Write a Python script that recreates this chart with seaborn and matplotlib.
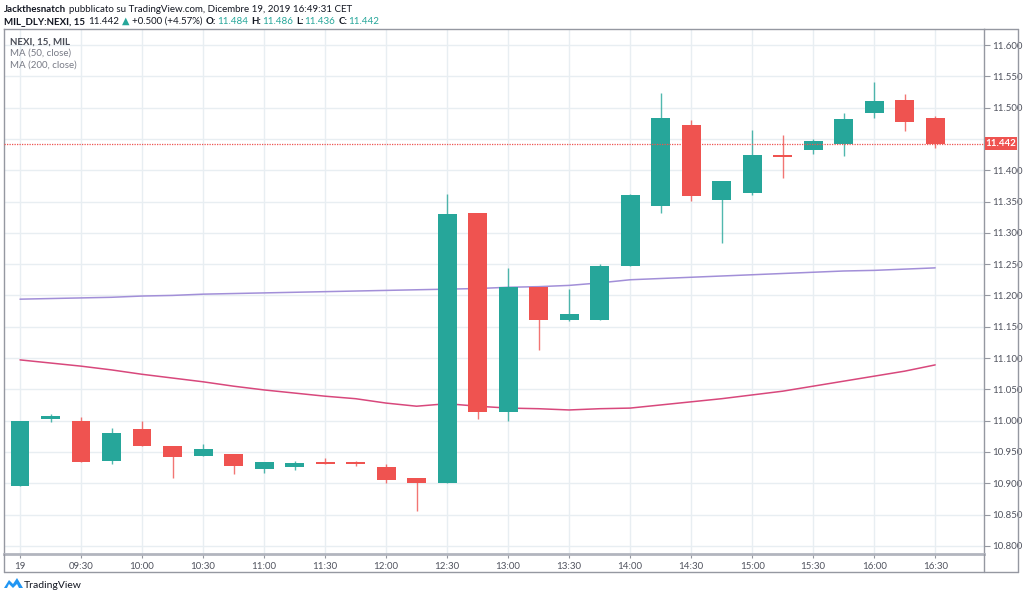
import numpy as np
import pandas as pd
import matplotlib
matplotlib.use("Agg")
import matplotlib.pyplot as plt
import seaborn as sns
from matplotlib.lines import Line2D
from matplotlib.patches import Rectangle, Polygon

# ---------------- data ----------------
times = ["09:00", "09:15", "09:30", "09:45", "10:00", "10:15", "10:30", "10:45",
         "11:00", "11:15", "11:30", "11:45", "12:00", "12:15", "12:30", "12:45",
         "13:00", "13:15", "13:30", "13:45", "14:00", "14:15", "14:30", "14:45",
         "15:00", "15:15", "15:30", "15:45", "16:00", "16:15", "16:30"]
opens = [10.895, 11.002, 11.000, 10.935, 10.986, 10.960, 10.943, 10.946, 10.923, 10.926,
         10.934, 10.934, 10.926, 10.908, 10.900, 11.332, 11.013, 11.213, 11.161, 11.161,
         11.247, 11.343, 11.473, 11.353, 11.363, 11.424, 11.433, 11.442, 11.492, 11.512, 11.484]
highs = [11.000, 11.010, 11.006, 10.988, 11.000, 10.960, 10.962, 10.946, 10.934, 10.936,
         10.940, 10.936, 10.930, 10.908, 11.362, 11.332, 11.243, 11.213, 11.211, 11.250,
         11.362, 11.523, 11.480, 11.382, 11.464, 11.456, 11.450, 11.492, 11.541, 11.522, 11.486]
lows = [10.895, 10.998, 10.934, 10.930, 10.959, 10.909, 10.943, 10.914, 10.917, 10.921,
        10.931, 10.928, 10.900, 10.855, 10.900, 11.002, 11.000, 11.112, 11.159, 11.161,
        11.247, 11.331, 11.351, 11.283, 11.361, 11.387, 11.426, 11.423, 11.484, 11.462, 11.436]
closes = [11.000, 11.007, 10.934, 10.980, 10.959, 10.942, 10.955, 10.928, 10.934, 10.932,
          10.931, 10.930, 10.905, 10.900, 11.330, 11.013, 11.213, 11.161, 11.170, 11.247,
          11.360, 11.484, 11.359, 11.382, 11.424, 11.421, 11.446, 11.482, 11.510, 11.477, 11.442]
ma50 = [11.194, 11.195, 11.196, 11.197, 11.199, 11.200, 11.202, 11.203, 11.204, 11.205,
        11.206, 11.207, 11.208, 11.209, 11.210, 11.211, 11.213, 11.214, 11.216, 11.220,
        11.225, 11.227, 11.229, 11.231, 11.233, 11.235, 11.237, 11.239, 11.240, 11.242, 11.244]
ma200 = [11.097, 11.092, 11.087, 11.081, 11.074, 11.068, 11.062, 11.055, 11.049, 11.044,
         11.039, 11.035, 11.028, 11.023, 11.027, 11.023, 11.020, 11.019, 11.017, 11.019,
         11.020, 11.025, 11.030, 11.035, 11.041, 11.047, 11.055, 11.063, 11.071, 11.079, 11.089]
ytick_values = [10.80, 10.85, 10.90, 10.95, 11.00, 11.05, 11.10, 11.15, 11.20,
                11.25, 11.30, 11.35, 11.40, 11.45, 11.50, 11.55, 11.60]
xtick_labels = ["19", "09:30", "10:00", "10:30", "11:00", "11:30", "12:00", "12:30",
                "13:00", "13:30", "14:00", "14:30", "15:00", "15:30", "16:00", "16:30"]
last_price = 11.442

# ---------------- style ----------------
sns.set_style("white")
FONTS = ['Lato', 'DejaVu Sans']
plt.rcParams['font.family'] = FONTS

GREEN = "#26a69a"
RED = "#ef5350"
GRID = "#e8eef2"
BORDER = "#9598a1"
TXT = "#131722"
AX_TXT = "#50535e"

W, H = 1024, 597
fig = plt.figure(figsize=(W / 100, H / 100), dpi=100)
fig.patch.set_facecolor("white")

def fx(px):
    return px / W

def fy(py):
    return 1 - py / H

L, R, T, B = 4, 984, 29, 554
ax = fig.add_axes([fx(L), fy(B), (R - L) / W, (B - T) / H])

df = pd.DataFrame({"idx": np.arange(len(times)), "time": times, "open": opens,
                   "high": highs, "low": lows, "close": closes,
                   "ma50": ma50, "ma200": ma200})

# grid
for v in ytick_values:
    ax.axhline(v, color=GRID, lw=1, zorder=0)
for i in range(0, len(times), 2):
    ax.axvline(i, color=GRID, lw=1, zorder=0)

# moving averages via seaborn
sns.lineplot(data=df, x="idx", y="ma50", ax=ax, color="#a28fd8", lw=1.1, zorder=2)
sns.lineplot(data=df, x="idx", y="ma200", ax=ax, color="#d8487c", lw=1.1, zorder=2)

# candles
up = df["close"] >= df["open"]
colors = np.where(up, GREEN, RED)
ax.vlines(df["idx"], df["low"], df["high"], colors=colors, lw=1.0, alpha=0.8, zorder=3)
body_lo = np.minimum(df["open"], df["close"])
body_h = np.maximum(np.abs(df["close"] - df["open"]), 0.0025)
ax.bar(df["idx"], body_h, bottom=body_lo, width=0.62, color=colors, linewidth=0, zorder=4)

# last price line
ax.axhline(last_price, color=RED, lw=0.9, ls=(0, (1, 1)), zorder=5)

ax.set_xlim(-0.525, 31.6)
ax.set_ylim(10.7869, 11.6256)
ax.set_xlabel("")
ax.set_ylabel("")

ax.yaxis.tick_right()
ax.set_yticks(ytick_values)
# the 11.450 label sits behind the last-price box in the reference
ax.set_yticklabels(["" if abs(v - 11.45) < 1e-9 else f"{v:.3f}" for v in ytick_values])
ax.set_xticks(list(range(0, len(times), 2)))
ax.set_xticklabels(xtick_labels)
ax.tick_params(axis="y", which="both", direction="out", length=4, width=0.8,
               color=BORDER, labelcolor=AX_TXT, labelsize=7, pad=2, right=True, left=False)
ax.tick_params(axis="x", which="both", direction="out", length=3, width=0.8,
               color=BORDER, labelcolor=AX_TXT, labelsize=7, pad=3, bottom=True)

for s in ["left", "top", "right"]:
    ax.spines[s].set_color(BORDER)
    ax.spines[s].set_linewidth(1)
ax.spines["bottom"].set_color("#b2b5be")
ax.spines["bottom"].set_linewidth(2)

# outer frame lines
def fline(x0, y0, x1, y1, c=BORDER, lw=1):
    fig.add_artist(Line2D([fx(x0), fx(x1)], [fy(y0), fy(y1)], color=c, lw=lw,
                          transform=fig.transFigure))

fline(4, 554, 4, 572)
fline(4, 572, 1018, 572)
fline(1018, 29, 1018, 572)
fline(984, 29, 1018, 29)
fline(984, 554, 984, 572)

# last price label box
fig.add_artist(Rectangle((fx(985), fy(150)), fx(1017) - fx(985), fy(137) - fy(150),
                         transform=fig.transFigure, facecolor=RED, edgecolor="none", zorder=10))
fig.text(fx(1001), fy(143.5), f"{last_price:.3f}", color="white", fontsize=7,
         ha="center", va="center", zorder=11, fontweight="bold")

# chained header text
renderer = fig.canvas.get_renderer()

def chain(x_px, y_px, pieces, size):
    x = x_px
    for s, color, weight in pieces:
        t = fig.text(fx(x), fy(y_px), s, color=color, fontsize=size, fontweight=weight,
                     va="baseline", ha="left", family=FONTS)
        bb = t.get_window_extent(renderer)
        x += bb.width
        x += 3 if not s.endswith(":") else 1

chain(4, 12, [("Jackthesnatch", TXT, "bold"),
              ("pubblicato su TradingView.com, Dicembre 19, 2019 16:49:31 CET", TXT, "normal")], 7.0)
chain(4, 24, [("MIL_DLY:NEXI, 15", TXT, "bold"),
              ("11.442", TXT, "normal"),
              ("▲", GREEN, "normal"),
              ("+0.500 (+4.57%)", TXT, "normal"),
              ("O:", TXT, "bold"), ("11.484", GREEN, "normal"),
              ("H:", TXT, "bold"), ("11.486", GREEN, "normal"),
              ("L:", TXT, "bold"), ("11.436", GREEN, "normal"),
              ("C:", TXT, "bold"), ("11.442", GREEN, "normal")], 7.0)

# legend text inside chart
fig.text(fx(10), fy(44.5), "NEXI, 15, MIL", color="#4a4d57", fontsize=7, fontweight="bold", va="baseline")
fig.text(fx(10), fy(56), "MA (50, close)", color="#787b86", fontsize=7, va="baseline")
fig.text(fx(10), fy(67.5), "MA (200, close)", color="#787b86", fontsize=7, va="baseline")

# TradingView logo
logo = Polygon([[fx(4), fy(588)], [fx(9), fy(580)], [fx(13), fy(584)], [fx(17), fy(578)],
                [fx(23), fy(588)], [fx(19), fy(588)], [fx(17), fy(584)], [fx(13), fy(588)],
                [fx(9), fy(584)], [fx(7), fy(588)]],
               closed=True, transform=fig.transFigure, facecolor="#2196f3", edgecolor="none")
fig.add_artist(logo)
fig.text(fx(24), fy(588), "TradingView", color=TXT, fontsize=7.5, va="baseline")

fig.savefig("out.png", dpi=100)
